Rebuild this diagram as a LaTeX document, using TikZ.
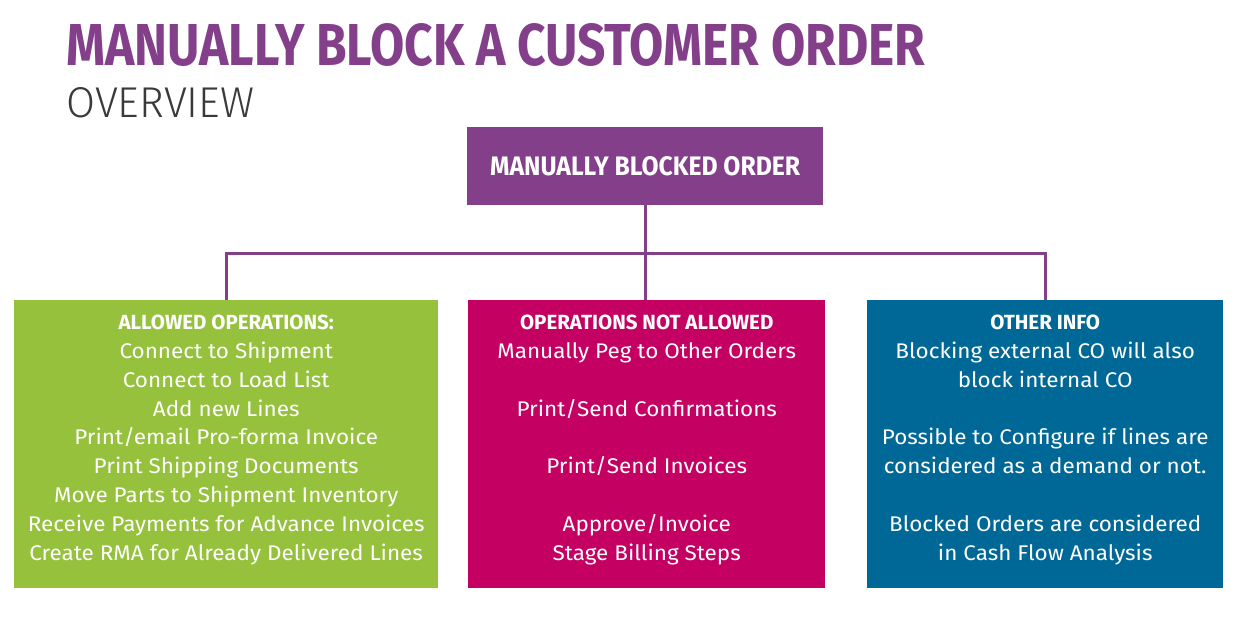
\documentclass[tikz,border=0pt]{standalone}
\usepackage{fontspec}
\setmainfont[FakeStretch=1.06]{Fira Sans}
\newfontfamily\condfont{Fira Sans}
\newfontfamily\narrowfont[FakeStretch=0.72]{Fira Sans}
\newfontfamily\lightfont{Fira Sans Light}
\definecolor{cpurple}{HTML}{843F8B}
\definecolor{cgreen}{HTML}{95C13D}
\definecolor{cmagenta}{HTML}{C40062}
\definecolor{cblue}{HTML}{006896}
\definecolor{cgrey}{HTML}{3A3A3A}
\tikzset{
  panel/.style={fill=#1, draw=none, anchor=north west, inner sep=0pt},
  link/.style={draw=cpurple, line width=2.6pt},
  bodytext/.style={text=white, align=center, anchor=north, inner sep=0pt,
    font=\fontsize{21.2}{28.8}\selectfont},
}
\newcommand{\hd}[1]{{\condfont\bfseries\fontsize{20.5}{28.8}\selectfont #1}}
\begin{document}
\begin{tikzpicture}[x=1pt,y=-1pt]
\useasboundingbox (0,0) rectangle (1251,631);
% titles
\node[anchor=south west, inner sep=0pt, text=cpurple] (title) at (66,67)
  {\resizebox{859pt}{42pt}{\narrowfont\bfseries MANUALLY BLOCK A CUSTOMER ORDER}};
\node[anchor=south west, inner sep=0pt, text=cgrey] (sub) at (66,118)
  {\resizebox{188pt}{30pt}{\lightfont OVERVIEW}};
% top box
\node[panel=cpurple, minimum width=356pt, minimum height=78pt] (top) at (467,127) {};
\node[text=white, inner sep=0pt] (toptext) at (top.center)
  {\resizebox{310pt}{19pt}{\narrowfont\bfseries MANUALLY BLOCKED ORDER}};
% panels
\node[panel=cgreen, minimum width=424pt, minimum height=288pt] (left) at (14,300) {};
\node[panel=cmagenta, minimum width=357pt, minimum height=288pt] (mid) at (468,300) {};
\node[panel=cblue, minimum width=356pt, minimum height=288pt] (right) at (867,300) {};
% connectors
\coordinate (bus) at ([yshift=-48pt]top.south);
\draw[link] (top.south) -- (top.south |- mid.north);
\draw[link] (left.north) |- (bus) -| (right.north);
% texts
\node[bodytext] (lt) at ([yshift=-15pt]left.north) {\hd{ALLOWED OPERATIONS:}\\
Connect to Shipment\\
Connect to Load List\\
Add new Lines\\
Print/email Pro-forma Invoice\\
Print Shipping Documents\\
Move Parts to Shipment Inventory\\
Receive Payments for Advance Invoices\\
Create RMA for Already Delivered Lines};
\node[bodytext] (mt) at ([yshift=-15pt]mid.north) {\hd{OPERATIONS NOT ALLOWED}\\
Manually Peg to Other Orders\\
~\\
Print/Send Confirmations\\
~\\
Print/Send Invoices\\
~\\
Approve/Invoice\\
Stage Billing Steps};
\node[bodytext] (rt) at ([yshift=-15pt]right.north) {\hd{OTHER INFO}\\
Blocking external CO will also\\
block internal CO\\
~\\
Possible to Configure if lines are\\
considered as a demand or not.\\
~\\
Blocked Orders are considered\\
in Cash Flow Analysis};
\end{tikzpicture}
\end{document}
